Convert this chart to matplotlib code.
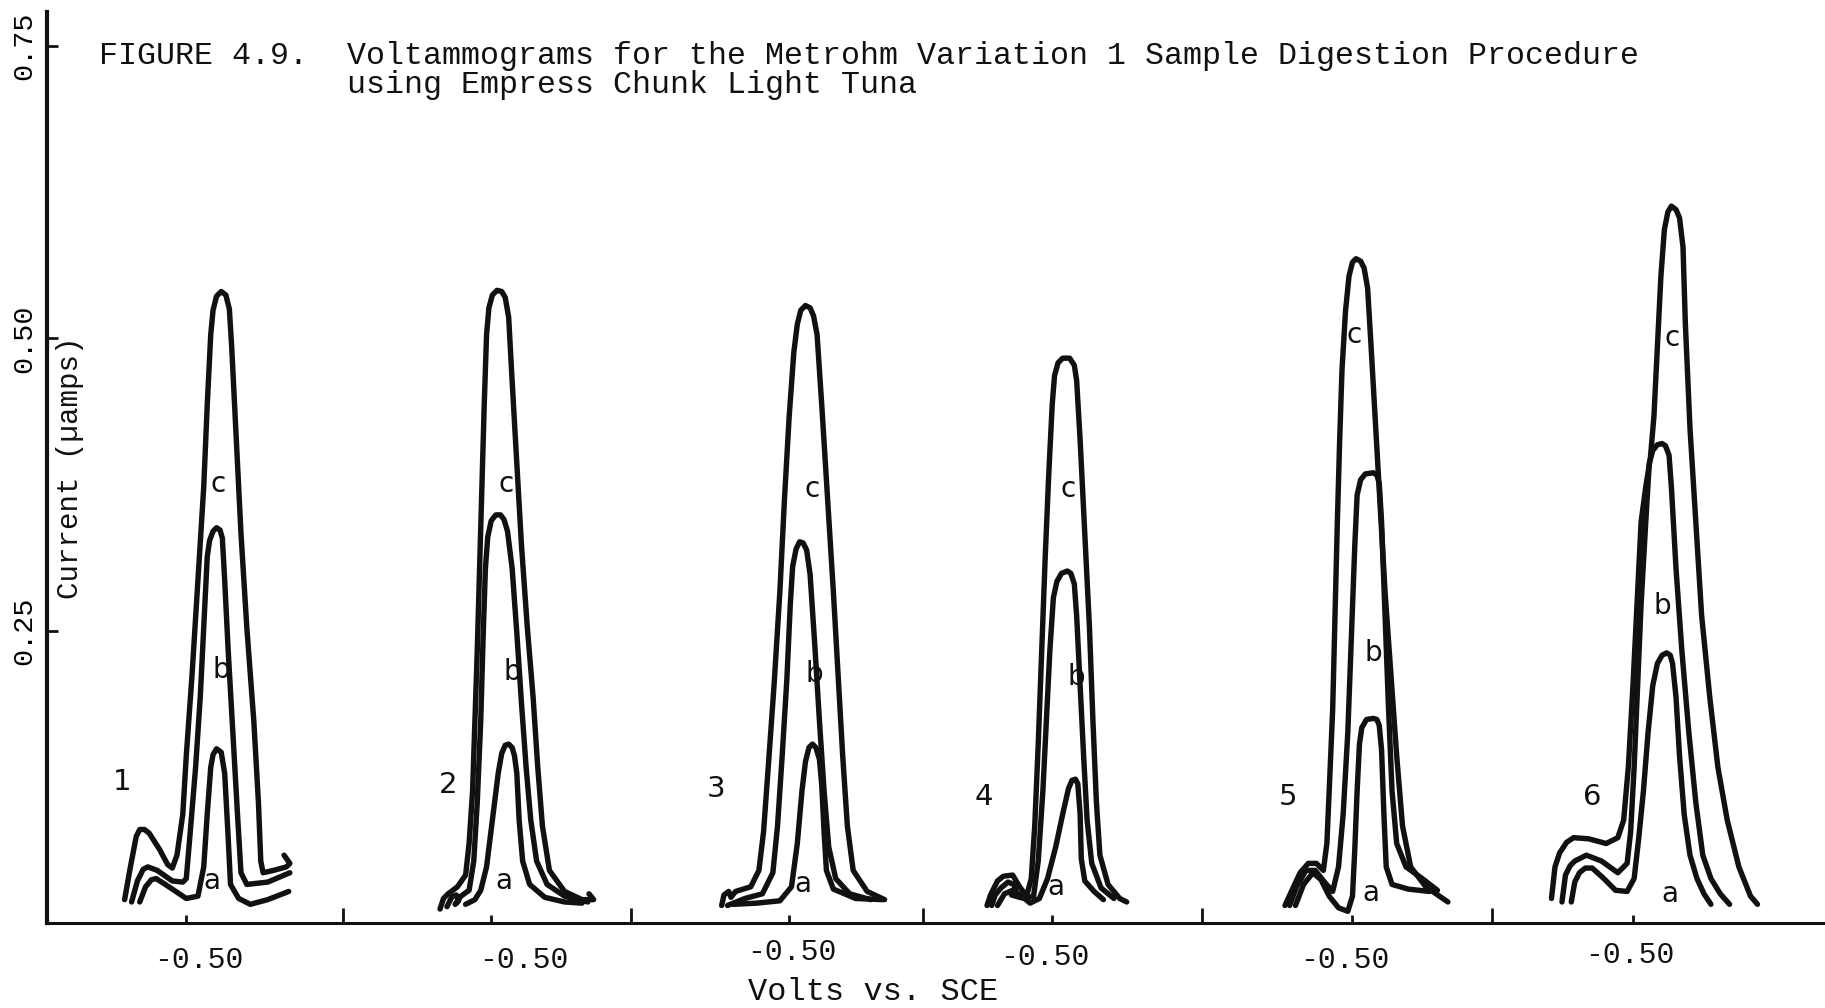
import matplotlib.pyplot as plt

# position of each sweep's -0.50 V tick on the shared axis, and the taller divider ticks
sweep_origin = [0.160, 0.422, 0.678, 0.904, 1.162, 1.403]
divider_pos = [0.295, 0.542, 0.793, 1.033, 1.282]
sweep_names = ["1", "2", "3", "4", "5", "6"]

# traces: (mV from -0.50 V, current in nA)
p1_c = [(-53, 20), (-48, 48), (-43, 74), (-40, 80), (-36, 80), (-32, 77), (-23, 63), (-16, 50),
        (-12, 47), (-8, 58), (-3, 93), (0, 143), (5, 213), (10, 293), (15, 373), (18, 443),
        (21, 503), (23, 524), (26, 536), (30, 540), (34, 537), (37, 525), (39, 493), (43, 413),
        (47, 333), (52, 253), (58, 173), (62, 103), (64, 53), (66, 43), (75, 45), (86, 48),
        (89, 51), (84, 58)]
p1_b = [(-47, 18), (-42, 36), (-37, 46), (-33, 48), (-25, 45), (-12, 36), (-3, 35), (0, 38),
        (3, 73), (8, 133), (12, 193), (15, 253), (18, 313), (20, 327), (23, 335), (26, 338),
        (29, 336), (31, 329), (33, 293), (36, 233), (40, 163), (44, 93), (47, 43), (52, 33),
        (70, 35), (89, 43)]
p1_a = [(-40, 18), (-35, 31), (-30, 37), (-26, 38), (-18, 33), (0, 21), (10, 23), (15, 48),
        (18, 93), (21, 133), (23, 144), (26, 149), (30, 146), (33, 128), (36, 73), (38, 33),
        (45, 21), (55, 16), (70, 20), (88, 27)]

p2_c = [(-44, 12), (-41, 21), (-37, 25), (-29, 31), (-22, 41), (-19, 68), (-16, 113), (-14, 173),
        (-12, 233), (-10, 303), (-8, 373), (-6, 443), (-4, 503), (-2, 526), (1, 537), (5, 541),
        (9, 540), (12, 535), (15, 518), (18, 463), (22, 393), (26, 323), (31, 253), (36, 193),
        (40, 133), (44, 83), (50, 45), (63, 27), (78, 20), (88, 20), (84, 25)]
p2_b = [(-38, 14), (-34, 22), (-30, 24), (-28, 19), (-31, 16), (-26, 23), (-19, 28), (-15, 53),
        (-12, 103), (-9, 173), (-7, 243), (-5, 303), (-3, 330), (0, 344), (4, 349), (8, 349),
        (11, 345), (14, 335), (18, 303), (22, 248), (26, 188), (30, 133), (34, 88), (39, 53),
        (48, 33), (63, 23), (83, 18)]
p2_a = [(-22, 16), (-14, 20), (-9, 28), (-4, 48), (1, 88), (6, 128), (9, 145), (12, 152),
        (15, 153), (18, 150), (20, 143), (22, 128), (24, 88), (27, 53), (33, 33), (46, 22),
        (63, 18), (78, 17)]

p3_c = [(-58, 15), (-56, 24), (-52, 27), (-50, 22), (-46, 27), (-33, 31), (-26, 45), (-22, 78),
        (-18, 133), (-13, 203), (-8, 283), (-4, 363), (0, 433), (4, 488), (7, 512), (10, 524),
        (14, 528), (18, 526), (21, 519), (24, 503), (28, 443), (33, 363), (38, 283), (42, 213),
        (46, 143), (50, 83), (55, 45), (67, 27), (82, 20)]
p3_b = [(-53, 15), (-38, 21), (-23, 25), (-14, 43), (-10, 83), (-6, 143), (-2, 208), (1, 273),
        (3, 305), (6, 320), (9, 326), (12, 325), (15, 319), (18, 298), (22, 238), (26, 173),
        (30, 113), (34, 65), (40, 38), (52, 25), (70, 20)]
p3_a = [(-48, 16), (-28, 17), (-8, 19), (2, 31), (7, 68), (11, 113), (14, 138), (17, 150),
        (20, 153), (23, 150), (26, 140), (28, 118), (30, 78), (32, 45), (38, 29), (57, 21),
        (80, 20)]

p4_c = [(-56, 15), (-53, 24), (-47, 36), (-42, 40), (-34, 41), (-28, 31), (-22, 23), (-18, 38),
        (-15, 83), (-12, 153), (-9, 233), (-6, 313), (-3, 383), (0, 443), (2, 468), (5, 479),
        (9, 483), (15, 483), (19, 477), (21, 464), (24, 413), (28, 333), (32, 253), (35, 173),
        (38, 103), (41, 58), (48, 33), (58, 21), (64, 18)]
p4_b = [(-52, 15), (-49, 24), (-44, 30), (-38, 35), (-33, 33), (-31, 27), (-35, 24), (-28, 22),
        (-24, 21), (-16, 23), (-12, 53), (-8, 113), (-5, 173), (-2, 233), (1, 278), (4, 292),
        (8, 299), (13, 301), (16, 299), (19, 290), (21, 263), (24, 203), (27, 143), (30, 88),
        (34, 51), (42, 30), (53, 21)]
p4_a = [(-47, 15), (-41, 25), (-34, 28), (-26, 23), (-19, 17), (-11, 21), (-4, 38), (3, 65),
        (9, 93), (14, 115), (17, 122), (20, 123), (22, 119), (24, 93), (25, 55), (28, 36),
        (36, 27), (44, 20)]

p5_c = [(-58, 15), (-52, 28), (-45, 43), (-38, 51), (-31, 51), (-25, 45), (-22, 68), (-20, 113),
        (-17, 183), (-15, 263), (-13, 343), (-11, 413), (-9, 473), (-6, 523), (-3, 553), (0, 565),
        (3, 568), (7, 566), (10, 560), (13, 543), (16, 493), (20, 423), (24, 353), (28, 283),
        (33, 213), (38, 143), (43, 83), (50, 48), (63, 31), (82, 18)]
p5_b = [(-54, 15), (-48, 31), (-40, 45), (-32, 45), (-24, 35), (-17, 27), (-12, 48), (-8, 93),
        (-4, 163), (-1, 243), (2, 323), (4, 366), (7, 379), (11, 384), (18, 385), (21, 383),
        (23, 376), (25, 343), (28, 263), (31, 183), (34, 113), (38, 68), (46, 48), (60, 38),
        (73, 28)]
p5_a = [(-49, 15), (-42, 33), (-34, 43), (-27, 37), (-20, 23), (-12, 13), (-4, 10), (0, 23),
        (2, 63), (4, 113), (6, 153), (8, 167), (12, 174), (18, 175), (21, 174), (23, 169),
        (25, 148), (27, 93), (29, 48), (34, 33), (48, 29), (66, 27)]

p6_c = [(-70, 21), (-67, 48), (-63, 60), (-57, 69), (-51, 73), (-38, 72), (-23, 68), (-13, 73),
        (-8, 88), (-4, 133), (0, 203), (4, 283), (7, 343), (11, 373), (15, 398), (18, 433),
        (21, 493), (24, 553), (27, 593), (30, 608), (33, 613), (37, 610), (40, 603), (43, 578),
        (45, 513), (49, 423), (54, 343), (59, 263), (66, 193), (73, 133), (81, 88), (91, 48),
        (101, 23), (107, 16)]
p6_b = [(-61, 18), (-58, 41), (-54, 49), (-50, 53), (-40, 58), (-27, 53), (-13, 43), (-5, 51),
        (-2, 78), (1, 133), (4, 203), (7, 273), (11, 343), (14, 393), (17, 404), (21, 409),
        (25, 410), (28, 408), (31, 400), (33, 373), (37, 303), (42, 233), (48, 163), (54, 103),
        (60, 58), (67, 38), (75, 25), (83, 16)]
p6_a = [(-53, 18), (-50, 35), (-46, 43), (-41, 47), (-35, 47), (-25, 38), (-15, 28), (-5, 27),
        (1, 38), (5, 73), (9, 113), (13, 163), (17, 203), (21, 222), (25, 229), (29, 231),
        (32, 229), (34, 222), (37, 193), (40, 143), (44, 93), (49, 58), (55, 38), (61, 25),
        (67, 16)]

sweeps = [[p1_a, p1_b, p1_c], [p2_a, p2_b, p2_c], [p3_a, p3_b, p3_c],
          [p4_a, p4_b, p4_c], [p5_a, p5_b, p5_c], [p6_a, p6_b, p6_c]]

# text placed on the chart (axis position, µA)
name_pos = [(0.105, 0.121), (0.385, 0.118), (0.615, 0.115), (0.845, 0.108), (1.107, 0.108), (1.368, 0.108)]
c_pos = [(0.187, 0.375), (0.435, 0.375), (0.698, 0.371), (0.918, 0.371), (1.163, 0.503), (1.437, 0.500)]
b_pos = [(0.190, 0.216), (0.440, 0.215), (0.700, 0.213), (0.925, 0.210), (1.180, 0.231), (1.428, 0.271)]
a_pos = [(0.182, 0.036), (0.433, 0.036), (0.690, 0.033), (0.907, 0.031), (1.178, 0.026), (1.435, 0.025)]
volt_label_pos = [(0.171, -0.032), (0.450, -0.032), (0.680, -0.025), (0.898, -0.029), (1.155, -0.032), (1.400, -0.027)]

y_ticks = [0.25, 0.50, 0.75]
y_ticklabels = ["0.25", "0.50", "0.75"]

TYPE = "Liberation Mono"
INK = "#111111"

fig = plt.figure(figsize=(18.25, 10.08), dpi=100)
ax = fig.add_axes([0.0258, 0.0843, 0.9742, 0.9038])
ax.set_xlim(0.0404, 1.568)
ax.set_ylim(0, 0.779)

for origin, curves in zip(sweep_origin, sweeps):
    for curve in curves:
        xs = [origin + mv / 1000 for mv, na in curve]
        ys = [na / 1000 for mv, na in curve]
        ax.plot(xs, ys, color=INK, lw=3.9, solid_joinstyle="round", solid_capstyle="round")

for spine in ["top", "right"]:
    ax.spines[spine].set_visible(False)
ax.spines["left"].set_linewidth(3.0)
ax.spines["bottom"].set_linewidth(2.2)
ax.spines["left"].set_color(INK)
ax.spines["bottom"].set_color(INK)

ax.set_xticks(divider_pos)
ax.set_xticks(sweep_origin, minor=True)
ax.set_xticklabels([])
ax.tick_params(axis="x", which="major", direction="in", length=11, width=2.0, color=INK)
ax.tick_params(axis="x", which="minor", direction="in", length=6, width=2.0, color=INK)

ax.set_yticks(y_ticks)
ax.set_yticklabels(y_ticklabels, rotation=90, fontfamily=TYPE, fontsize=20.5)
for lab in ax.get_yticklabels():
    lab.set_va("center")
ax.tick_params(axis="y", direction="in", length=8, width=2.0, color=INK, pad=7)

for name, (x, y) in zip(sweep_names, name_pos):
    ax.text(x, y, name, ha="center", va="center", fontsize=21, color=INK)
for letter, positions in [("a", a_pos), ("b", b_pos), ("c", c_pos)]:
    for x, y in positions:
        ax.text(x, y, letter, ha="center", va="center", fontsize=20, color=INK)
for x, y in volt_label_pos:
    ax.text(x, y, "-0.50", ha="center", va="center", fontsize=21.5, fontfamily=TYPE,
            color=INK, clip_on=False)

fig.text(99 / 1825, 1 - 64 / 1008, "FIGURE 4.9.", fontsize=22.8, fontfamily=TYPE,
         ha="left", va="baseline", color=INK)
fig.text(347 / 1825, 1 - 64 / 1008,
         "Voltammograms for the Metrohm Variation 1 Sample Digestion Procedure",
         fontsize=22.8, fontfamily=TYPE, ha="left", va="baseline", color=INK)
fig.text(347 / 1825, 1 - 93 / 1008, "using Empress Chunk Light Tuna",
         fontsize=22.8, fontfamily=TYPE, ha="left", va="baseline", color=INK)
fig.text(70 / 1825, 1 - 468 / 1008, "Current (\u00b5amps)", rotation=90, fontsize=21,
         fontfamily=TYPE, ha="center", va="center", color=INK)
fig.text(873 / 1825, 1 - 992 / 1008, "Volts vs. SCE", fontsize=23, fontfamily=TYPE,
         ha="center", va="center", color=INK)

fig.savefig("out.png", dpi=100, facecolor="white")
